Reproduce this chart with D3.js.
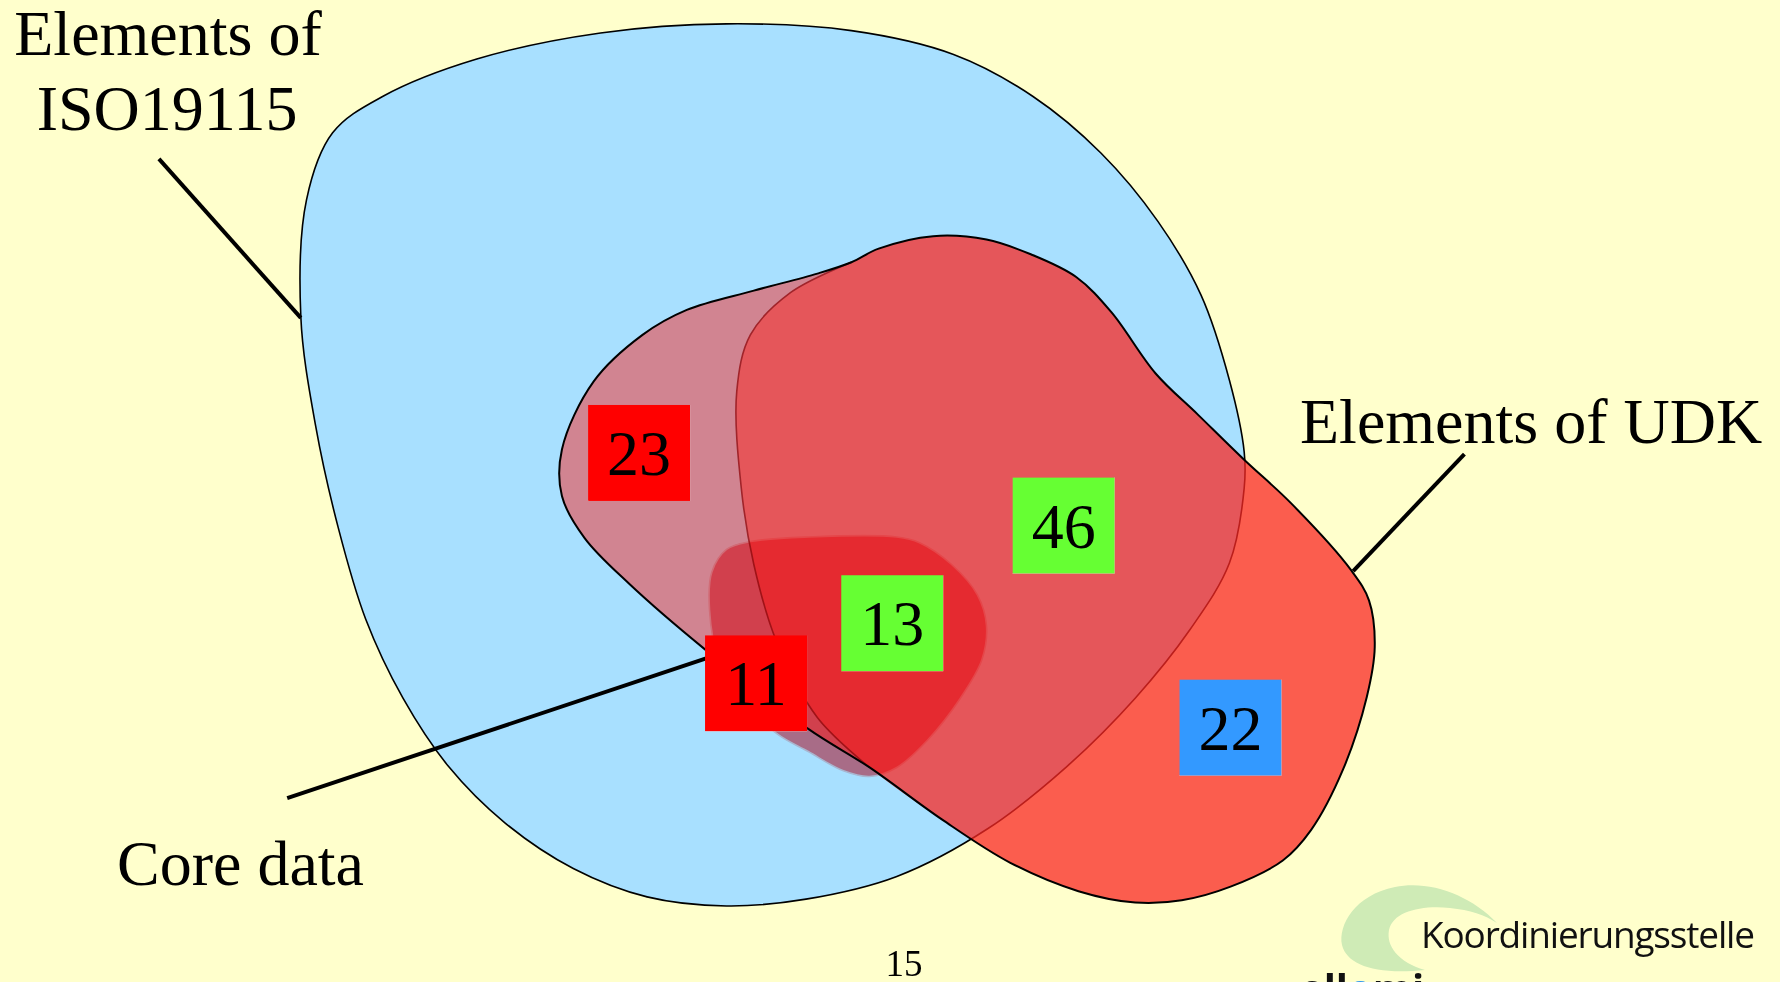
<!DOCTYPE html>
<html>
<head>
<meta charset="utf-8">
<script src="https://cdn.jsdelivr.net/npm/d3@7"></script>
<style>
  html, body { margin: 0; padding: 0; background: #ffffcc; overflow: hidden; }
  svg { display: block; }
</style>
</head>
<body>
<div id="chart"></div>
<script>
// outlines, in reference units (1568 x 865)
const isoOutline = [
  [265,279],[270,176],[293,117],[337,85],[420,52],[529,29],[640,21],[750,27],[840,48],
  [910,85],[970,135],[1020,195],[1058,260],[1083,335],[1096,398],[1096,430],[1083,496],
  [1048,555],[1000,615],[940,675],[870,730],[790,772],[710,792],[640,798],[570,790],
  [505,765],[445,725],[395,675],[355,615],[322,545],[298,465],[278,375]
];
const udkOutline = [
  [566,295],[605,273],[664,256],[720,241],[750,231],[774,219],[822,208],[869,211],
  [908,224],[948,244],[979,275],[1018,329],[1055,365],[1096,405],[1137,443],[1190,502],
  [1206,529],[1211,570],[1204,614],[1183,678],[1155,731],[1130,758],[1084,781],[1041,793],
  [1000,795],[950,785],[890,760],[830,722],[766,676],[712,642],[621,572],[554,514],
  [515,474],[495,437],[495,396],[523,336]
];
const udkInnerEdge = [
  [750,231],[696,258],[661,295],[649,345],[653,430],[664,497],[684,565],[720,632],[766,676]
];
const coreOutline = [
  [661,477],[712,473],[790,473],[810,478],[838,497],[861,524],[869,551],[865,581],
  [846,615],[817,652],[790,676],[766,684],[743,679],[712,662],[684,646],[653,615],
  [633,581],[625,537],[627,504],[640,484]
];

const counts = ["23", "46", "13", "11", "22"];
const countX = [563, 937, 786, 666, 1084];
const countY = [399, 463, 549, 602, 641];
const countKind = ["iso", "both", "core", "coreIso", "udk"];

const setLabels = ["Elements of", "ISO19115", "Elements of UDK", "Core data"];

const W = 1780, H = 982;
const sx = d3.scaleLinear().domain([0, 1568]).range([0, W]);
const sy = d3.scaleLinear().domain([0, 865]).range([0, H]);
const boxColor = d3.scaleOrdinal()
  .domain(["iso", "both", "core", "coreIso", "udk"])
  .range(["#ff0000", "#66ff33", "#66ff33", "#ff0000", "#3399ff"]);

const svg = d3.select("#chart").append("svg")
  .attr("width", W)
  .attr("height", H);

svg.append("rect").attr("width", W).attr("height", H).attr("fill", "#ffffcc");

const closed = d3.line().x(d => sx(d[0])).y(d => sy(d[1])).curve(d3.curveCatmullRomClosed.alpha(0.5));
const open = d3.line().x(d => sx(d[0])).y(d => sy(d[1])).curve(d3.curveCatmullRom.alpha(0.5));

// ISO blob
svg.append("path")
  .attr("d", closed(isoOutline))
  .attr("fill", "#a8e0ff")
  .attr("stroke", "#000")
  .attr("stroke-width", 1.6);

// UDK blob: whole outline, then the right part laid over it again
svg.append("path")
  .attr("d", closed(udkOutline))
  .attr("fill", "rgb(250,40,35)")
  .attr("fill-opacity", 0.5);

const topIdx = udkOutline.findIndex(p => p[0] === 750 && p[1] === 231);
const bottomIdx = udkOutline.findIndex(p => p[0] === 766 && p[1] === 676);
// inner edge runs top -> bottom, then walk the outline back up to the top
const around = udkOutline.slice(topIdx + 1, bottomIdx + 1).reverse();
svg.append("path")
  .attr("d", closed(udkInnerEdge.slice(0, -1).concat(around)))
  .attr("fill", "rgb(250,40,35)")
  .attr("fill-opacity", 0.5);

svg.append("path")
  .attr("d", open(udkInnerEdge))
  .attr("fill", "none")
  .attr("stroke", "#a0242a")
  .attr("stroke-width", 1.6);

svg.append("path")
  .attr("d", closed(udkOutline))
  .attr("fill", "none")
  .attr("stroke", "#000")
  .attr("stroke-width", 2);

// core data blob
svg.append("path")
  .attr("d", closed(coreOutline))
  .attr("fill", "#ff7b87")
  .attr("stroke", "#ffd0d0")
  .attr("stroke-width", 1.6)
  .style("mix-blend-mode", "multiply");

// leader lines
const leaders = [
  [[140,140],[265,280]],
  [[1290,400],[1192,503]],
  [[253,703],[622,580]]
];
svg.selectAll(".leader")
  .data(leaders)
  .enter().append("line")
  .attr("class", "leader")
  .attr("x1", d => sx(d[0][0])).attr("y1", d => sy(d[0][1]))
  .attr("x2", d => sx(d[1][0])).attr("y2", d => sy(d[1][1]))
  .attr("stroke", "#000")
  .attr("stroke-width", 4);

// count boxes
const boxes = svg.selectAll(".count")
  .data(counts)
  .enter().append("g")
  .attr("class", "count")
  .attr("transform", (d, i) => "translate(" + sx(countX[i]) + "," + sy(countY[i]) + ")");
boxes.append("rect")
  .attr("x", -51).attr("y", -48)
  .attr("width", 102).attr("height", 96)
  .attr("fill", (d, i) => boxColor(countKind[i]));
boxes.append("text")
  .attr("y", 22)
  .attr("text-anchor", "middle")
  .style("font-family", "'Liberation Serif', 'Times New Roman', serif")
  .style("font-size", "64px")
  .attr("fill", "#000")
  .text(d => d);

// set labels
const labelPos = [[168, 55], [167, 130], [1300, 443], [117, 885]];
const labelAnchor = ["middle", "middle", "start", "start"];
svg.selectAll(".label")
  .data(setLabels)
  .enter().append("text")
  .attr("class", "label")
  .attr("x", (d, i) => labelPos[i][0])
  .attr("y", (d, i) => labelPos[i][1])
  .attr("text-anchor", (d, i) => labelAnchor[i])
  .style("font-family", "'Liberation Serif', 'Times New Roman', serif")
  .style("font-size", "64px")
  .attr("fill", "#000")
  .text(d => d);

// page number
svg.append("text")
  .attr("x", 904).attr("y", 976)
  .attr("text-anchor", "middle")
  .style("font-family", "'Liberation Serif', 'Times New Roman', serif")
  .style("font-size", "37px")
  .text("15");

// logo
svg.append("path")
  .attr("d", "M1497,923 C1470,895 1430,880 1395,887 C1355,895 1338,925 1342,945 C1347,965 1375,975 1425,970 C1398,962 1386,946 1389,930 C1393,912 1420,905 1450,908 C1470,910 1485,915 1497,923 Z")
  .attr("fill", "#cfebb6");
svg.append("text")
  .attr("x", 1421).attr("y", 948)
  .attr("textLength", 334)
  .style("font-family", "'Open Sans', sans-serif")
  .style("font-size", "37px")
  .attr("fill", "#111")
  .text("Koordinierungsstelle");
const cut = svg.append("text")
  .attr("x", 1300).attr("y", 1003)
  .style("font-family", "'Open Sans', sans-serif")
  .style("font-weight", "bold")
  .style("font-size", "40px")
  .attr("fill", "#111");
cut.append("tspan").text("ell");
cut.append("tspan").attr("fill", "#3399ee").text("o");
cut.append("tspan").text("mi");
</script>
</body>
</html>
